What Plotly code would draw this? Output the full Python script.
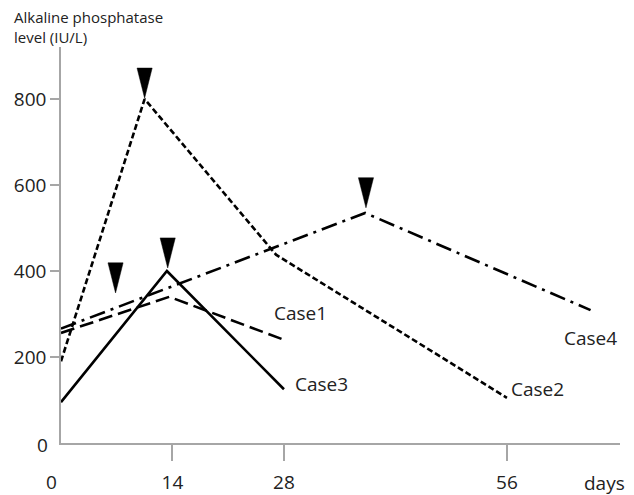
import plotly.graph_objects as go

# ---- data ----
case1_days = [0, 13.6, 28]
case1_vals = [256, 340, 240]
case2_days = [0, 10.5, 27, 56]
case2_vals = [190, 800, 438, 105]
case3_days = [0, 13.3, 28]
case3_vals = [95, 400, 125]
case4_days = [0, 38.2, 66.5]
case4_vals = [266, 535, 309]

arrow_days = [10.5, 13.4, 6.85, 38.3]
arrow_tips = [802, 407, 349, 547]

label_names = ["Case1", "Case2", "Case3", "Case4"]
label_days = [26.5, 56.3, 29.1, 62.9]
label_vals = [302, 126, 138, 244]

x_ticks = [14, 28, 56]
y_ticks = [200, 400, 600, 800]

FONT = "Open Sans, Noto Sans, Liberation Sans, sans-serif"
AXIS_COL = "#a6a6a6"

fig = go.Figure()

series = [
    (case1_days, case1_vals, "14px,6px"),
    (case2_days, case2_vals, "6px,3px"),
    (case3_days, case3_vals, "solid"),
    (case4_days, case4_vals, "16px,6px,3px,6px"),
]
for xs, ys, dash in series:
    fig.add_trace(go.Scatter(x=xs, y=ys, mode="lines",
                             line=dict(color="black", width=2.6, dash=dash),
                             showlegend=False, hoverinfo="skip"))

# arrowheads (tall narrow downward triangles)
hw, h = 0.95, 70
ax, ay = [], []
for d, v in zip(arrow_days, arrow_tips):
    ax += [d - hw, d + hw, d, d - hw, None]
    ay += [v + h, v + h, v, v + h, None]
fig.add_trace(go.Scatter(x=ax, y=ay, mode="lines", fill="toself",
                         fillcolor="black", line=dict(color="black", width=0.5),
                         showlegend=False, hoverinfo="skip"))

annotations = []
for name, d, v in zip(label_names, label_days, label_vals):
    annotations.append(dict(x=d, y=v, xref="x", yref="y", text=name,
                            showarrow=False, xanchor="left", yanchor="middle",
                            font=dict(family=FONT, size=19, color="#222")))

# axis extras
annotations.append(dict(x=0, y=0, xref="x", yref="paper", text="0", showarrow=False,
                        xanchor="center", yanchor="middle", xshift=-10, yshift=-39,
                        font=dict(family=FONT, size=19, color="#222")))
annotations.append(dict(x=68.3, y=0, xref="x", yref="paper", text="days", showarrow=False,
                        xanchor="center", yanchor="middle", yshift=-40,
                        font=dict(family=FONT, size=19, color="#222")))
annotations.append(dict(x=0, y=0, xref="paper", yref="y", text="0", showarrow=False,
                        xanchor="right", yanchor="middle", xshift=-11, yshift=-2,
                        font=dict(family=FONT, size=19, color="#222")))
annotations.append(dict(x=0, y=1, xref="paper", yref="paper",
                        text="Alkaline phosphatase<br>level (IU/L)", showarrow=False,
                        xanchor="left", yanchor="bottom", align="left",
                        xshift=-49, yshift=-2,
                        font=dict(family=FONT, size=15, color="#222")))

fig.update_layout(
    width=634, height=495,
    margin=dict(l=61, r=14, t=47, b=52, autoexpand=False),
    paper_bgcolor="white", plot_bgcolor="white",
    font=dict(family=FONT, size=19, color="#222"),
    annotations=annotations,
    xaxis=dict(range=[0, 70.2], showgrid=False, zeroline=False, automargin=False,
               showline=True, linecolor=AXIS_COL, linewidth=1.5,
               tickmode="array", tickvals=x_ticks, ticktext=[str(t) for t in x_ticks],
               ticks="outside", ticklen=16, tickcolor=AXIS_COL, tickwidth=1.5,
               ticklabelstandoff=5, fixedrange=True),
    yaxis=dict(range=[0, 921], showgrid=False, zeroline=False, automargin=False,
               showline=True, linecolor=AXIS_COL, linewidth=1.5,
               tickmode="array", tickvals=y_ticks, ticktext=[str(t) for t in y_ticks],
               ticks="outside", ticklen=9, tickcolor=AXIS_COL, tickwidth=1.5,
               fixedrange=True),
)

fig.write_html("out.html", config={"displayModeBar": False},
               post_script="document.body.style.margin='0';document.body.style.overflow='hidden';")
